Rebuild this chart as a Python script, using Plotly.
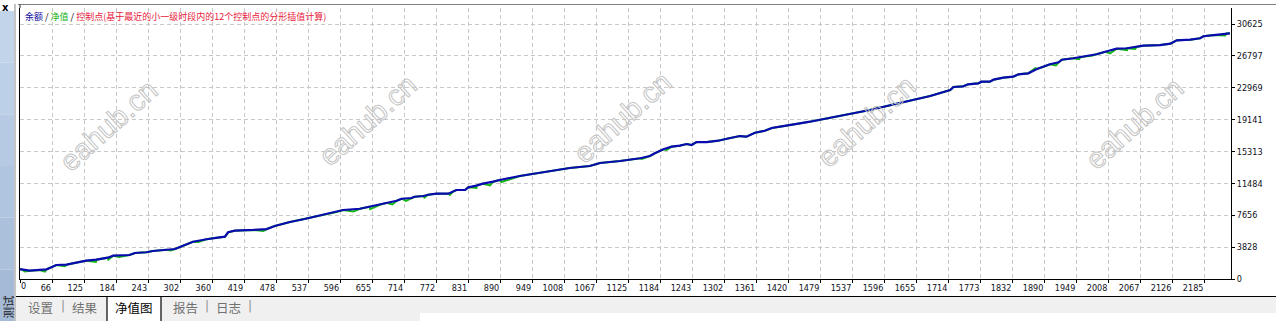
import plotly.graph_objects as go

# ---------------- data ----------------
bal_x = [0, 3, 18, 36, 49, 58, 67, 86, 98, 122,
         141, 162, 172, 202, 212, 233, 245, 270, 286, 295,
         319, 344, 362, 378, 384, 396, 430, 455, 470, 498,
         525, 572, 584, 596, 627, 645, 664, 676, 695, 704,
         722, 728, 744, 753, 768, 790, 799, 805, 821, 827,
         842, 854, 873, 885, 922, 968, 1014, 1051, 1070, 1107,
         1144, 1162, 1171, 1187, 1202, 1217, 1230, 1239, 1248, 1267,
         1288, 1304, 1319, 1328, 1340, 1356, 1374, 1387, 1402, 1424,
         1439, 1457, 1473, 1513, 1568, 1623, 1679, 1716, 1722, 1740,
         1749, 1768, 1774, 1789, 1796, 1814, 1832, 1842, 1860, 1876,
         1891, 1900, 1916, 1922, 1943, 1956, 1968, 1977, 1986, 2002,
         2023, 2042, 2060, 2072, 2103, 2122, 2134, 2159, 2177, 2183,
         2202, 2226, 2232]
bal_y = [1160, 1165, 1000, 1080, 1165, 1405, 1680, 1720, 1890, 2200,
         2320, 2560, 2800, 2880, 3120, 3210, 3360, 3520, 3600, 3840,
         4480, 4770, 4960, 5080, 5610, 5800, 5890, 6000, 6370, 6850,
         7210, 7890, 8050, 8290, 8440, 8680, 8920, 9160, 9400, 9640,
         9730, 9880, 9970, 10120, 10250, 10250, 10490, 10690, 10690, 11010,
         11210, 11450, 11690, 11890, 12370, 12850, 13330, 13570, 13930, 14170,
         14500, 14770, 15100, 15580, 15890, 16010, 16210, 16090, 16450, 16450,
         16610, 16850, 17090, 17170, 17090, 17570, 17810, 18140, 18290, 18580,
         18700, 18890, 19100, 19580, 20300, 21140, 21980, 22700, 23060, 23140,
         23380, 23500, 23700, 23700, 23940, 24180, 24300, 24580, 24700, 25220,
         25550, 25790, 26030, 26340, 26510, 26630, 26750, 26820, 26990, 27300,
         27660, 27710, 27860, 28020, 28100, 28260, 28670, 28740, 28910, 29150,
         29300, 29510, 29510]

# equity dips (where the green equity line shows under the balance line)
dip_x = [9, 46, 83, 140, 163, 183, 278, 329, 449, 615, 646, 687, 712, 746,
         793, 842, 867, 888, 1147, 1193, 1873, 1911, 1954, 2011, 2042, 2057, 2223]
dip_y = [900, 900, 1525, 2040, 2340, 2640, 3420, 4440, 5760, 8100, 8400, 8950,
         9370, 9790, 10090, 10930, 11230, 11650, 14410, 15490, 25330, 25650,
         26400, 27100, 27500, 27620, 29250]

x_tick_labels = ["0", "66", "125", "184", "243", "302", "360", "419", "478", "537",
                 "596", "655", "714", "772", "831", "890", "949", "1008", "1067",
                 "1125", "1184", "1243", "1302", "1361", "1420", "1479", "1537",
                 "1596", "1655", "1714", "1773", "1832", "1890", "1949", "2008",
                 "2067", "2126", "2185"]
y_tick_vals = [0, 3828, 7656, 11484, 15313, 19141, 22969, 26797, 30625]

legend_parts = [("余额", "#0a0aa0"), (" / ", "#000000"), ("净值", "#10b010"),
                (" / ", "#000000"),
                ("控制点(基于最近的小一级时段内的12个控制点的分形插值计算)", "#e8203a")]
tab_labels = ["设置", "结果", "净值图", "报告", "日志"]
side_label = "测试"
watermark = "eahub.cn"

# ---------------- figure geometry ----------------
W, H = 1276, 321
L, R, T, B = 20, 45, 8, 42
PW, PH = W - L - R, H - T - B
X_MAX = 2234
Y_MAX = 32547


def px(xp):
    return (xp - L) / PW


def py(yp):
    return (H - B - yp) / PH


# equity: balance points plus the dips
eq = sorted(zip(bal_x + dip_x, bal_y + dip_y))
eq_x = [p[0] for p in eq]
eq_y = [p[1] for p in eq]

fig = go.Figure()
fig.add_trace(go.Scatter(x=eq_x, y=eq_y, mode="lines",
                         line=dict(color="#14b814", width=2), hoverinfo="skip",
                         showlegend=False))
fig.add_trace(go.Scatter(x=bal_x, y=bal_y, mode="lines",
                         line=dict(color="#0a0ab0", width=2.2), hoverinfo="skip",
                         showlegend=False))

step = 2185 / (len(x_tick_labels) - 1)
x_tick_vals = [i * step for i in range(len(x_tick_labels))]
x_tick_text = [""] + x_tick_labels[1:]

tick_font = dict(family="DejaVu Sans Condensed, DejaVu Sans", size=9, color="#101020")

fig.update_xaxes(range=[0, X_MAX], tickvals=x_tick_vals, ticktext=x_tick_text,
                 showgrid=True, gridcolor="#c8c8c8", griddash="4px,3px", gridwidth=1,
                 showline=True, linecolor="black", linewidth=1, mirror=False,
                 ticks="outside", ticklen=3, tickcolor="black",
                 ticklabelposition="outside left", tickfont=tick_font,
                 zeroline=False, fixedrange=True)
fig.update_yaxes(range=[0, Y_MAX], tickvals=y_tick_vals,
                 ticktext=[str(v) for v in y_tick_vals], side="right",
                 showgrid=True, gridcolor="#c8c8c8", griddash="4px,3px", gridwidth=1,
                 showline=True, linecolor="black", linewidth=1, mirror=True,
                 ticks="outside", ticklen=3, tickcolor="black", tickfont=tick_font,
                 zeroline=False, fixedrange=True)

shapes = []
# left blue strip (gradient approximation)
blues = ["#c2d4ea", "#bcd0e7", "#b6cbe3", "#b0c5df", "#aac0db", "#a4bad7"]
y0 = 11
seg = (H - y0) / len(blues)
for i, c in enumerate(blues):
    shapes.append(dict(type="rect", xref="paper", yref="paper",
                       x0=px(0), x1=px(14), y0=py(y0 + seg * (i + 1)), y1=py(y0 + seg * i),
                       fillcolor=c, line=dict(width=0), layer="below"))
shapes.append(dict(type="line", xref="paper", yref="paper", x0=px(15), x1=px(15),
                   y0=py(4), y1=py(H), line=dict(color="#b0b0b0", width=1.5)))
# top panel border
shapes.append(dict(type="line", xref="paper", yref="paper", x0=px(18), x1=px(W),
                   y0=py(4.5), y1=py(4.5), line=dict(color="#808080", width=1)))
shapes.append(dict(type="line", xref="paper", yref="paper", x0=px(20), x1=px(20),
                   y0=py(4.5), y1=py(8), line=dict(color="#202020", width=1)))
# bottom tab bar
shapes.append(dict(type="rect", xref="paper", yref="paper", x0=px(16), x1=px(W),
                   y0=py(313), y1=py(296.5), fillcolor="#f0f0f0", line=dict(width=0)))
shapes.append(dict(type="rect", xref="paper", yref="paper", x0=px(16), x1=px(420),
                   y0=py(H), y1=py(313), fillcolor="#f0f0f0", line=dict(width=0)))
shapes.append(dict(type="rect", xref="paper", yref="paper", x0=px(107), x1=px(161),
                   y0=py(H), y1=py(296.5), fillcolor="#ffffff",
                   line=dict(width=0)))
shapes.append(dict(type="line", xref="paper", yref="paper", x0=px(16), x1=px(W),
                   y0=py(296.5), y1=py(296.5), line=dict(color="black", width=1.2)))
for xx in (107, 161):
    shapes.append(dict(type="line", xref="paper", yref="paper", x0=px(xx), x1=px(xx),
                       y0=py(H), y1=py(296.5), line=dict(color="black", width=1.2)))

annotations = []
# legend text
legend_html = "".join(f"<span style='color:{c}'>{t}</span>" for t, c in legend_parts)
annotations.append(dict(xref="paper", yref="paper", x=px(23), y=py(16.5),
                        xanchor="left", yanchor="middle", text=legend_html, showarrow=False,
                        font=dict(family="Noto Sans CJK SC", size=9)))
# x label "0"
annotations.append(dict(xref="paper", yref="paper", x=px(23.5), y=py(286),
                        xanchor="center", yanchor="middle", text=x_tick_labels[0],
                        showarrow=False, font=tick_font))
# close mark
annotations.append(dict(xref="paper", yref="paper", x=px(5), y=py(7),
                        xanchor="center", yanchor="middle", text="<b>x</b>",
                        showarrow=False, font=dict(family="DejaVu Sans", size=10, color="black")))
# tabs
tab_pos = [40, 85, 134, 185, 228]
for t, xc in zip(tab_labels, tab_pos):
    annotations.append(dict(xref="paper", yref="paper", x=px(xc), y=py(307),
                            xanchor="center", yanchor="middle", text=t, showarrow=False,
                            font=dict(family="Noto Sans CJK SC", size=12.5,
                                      color="#000000" if t == "净值图" else "#707070")))
for xc in (63, 207, 250):
    annotations.append(dict(xref="paper", yref="paper", x=px(xc), y=py(306),
                            xanchor="center", yanchor="middle", text="|", showarrow=False,
                            font=dict(family="DejaVu Sans", size=12, color="#909090")))
# side label (vertical)
annotations.append(dict(xref="paper", yref="paper", x=px(7), y=py(306.5),
                        xanchor="center", yanchor="middle", text=side_label, showarrow=False,
                        textangle=-90,
                        font=dict(family="Noto Sans CJK SC", size=11.5, color="#202020")))
# watermarks (outlined via post script)
wm_centers = [(108, 126), (368, 120), (622, 118), (866, 122), (1134, 124)]
for cx, cy in wm_centers:
    annotations.append(dict(xref="paper", yref="paper", x=px(cx), y=py(cy),
                            xanchor="center", yanchor="middle", text=watermark,
                            showarrow=False, textangle=-42,
                            font=dict(family="Liberation Sans", size=29, color="#d4d4d4")))

fig.update_layout(width=W, height=H, margin=dict(l=L, r=R, t=T, b=B, pad=0),
                  paper_bgcolor="white", plot_bgcolor="white",
                  shapes=shapes, annotations=annotations, showlegend=False)

post = """
var gd = document.getElementById('{plot_id}');
function wmOutline(){
  gd.querySelectorAll('text.annotation-text').forEach(function(t){
    if (t.textContent === '%s') {
      t.style.fill = 'none';
      t.style.stroke = '#c4c4c4';
      t.style.strokeWidth = '1px';
    }
  });
}
wmOutline();
if (gd.on) { gd.on('plotly_afterplot', wmOutline); }
""" % watermark

fig.write_html("out.html", config={"displayModeBar": False}, post_script=post)
